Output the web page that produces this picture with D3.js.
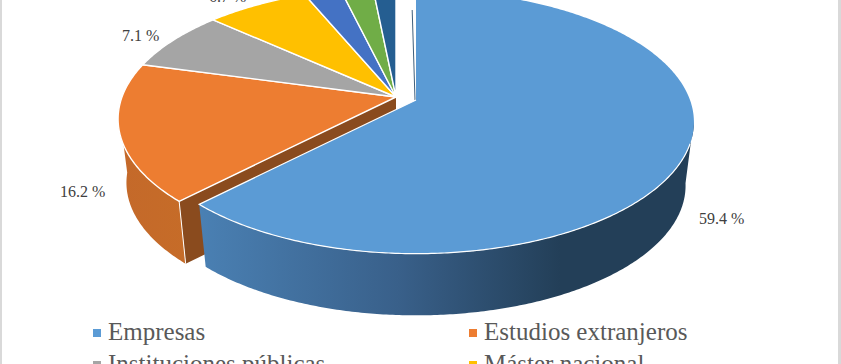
<!DOCTYPE html>
<html>
<head>
<meta charset="utf-8">
<style>
    html, body { margin: 0; padding: 0; background: #fff; }
    svg { display: block; }
    text { font-family: "Liberation Serif", serif; }
</style>
</head>
<body>
<div id="chart"></div>
<script src="https://d3js.org/d3.v7.min.js"></script>
<script>
// values, the last three slices have no readable label
var categories = ["Empresas", "Estudios extranjeros", "Instituciones públicas", "Máster nacional", "Otros 1", "Otros 2", "Otros 3"];
var values = [59.4, 16.2, 7.1, 6.7, 2.4, 2.1, 1.5];
var legendItems = ["Empresas", "Estudios extranjeros", "Instituciones públicas", "Máster nacional"];

var width = 841,
    height = 364;

var colors = d3.scaleOrdinal()
    .domain(categories)
    .range(["#5b9bd5", "#ed7d31", "#a5a5a5", "#ffc000", "#4472c4", "#70ad47", "#255e91"]);

var svg = d3.select("#chart").append("svg")
    .attr("width", width)
    .attr("height", height);

var defs = svg.append("defs");

var blueWall = defs.append("linearGradient")
    .attr("id", "blueWall")
    .attr("gradientUnits", "userSpaceOnUse")
    .attr("x1", 200).attr("x2", 560).attr("y1", 0).attr("y2", 0);
blueWall.append("stop").attr("offset", 0).attr("stop-color", "#4a80b3");
blueWall.append("stop").attr("offset", 0.55).attr("stop-color", "#39608a");
blueWall.append("stop").attr("offset", 1).attr("stop-color", "#233f58");

var orangeWall = defs.append("linearGradient")
    .attr("id", "orangeWall")
    .attr("gradientUnits", "userSpaceOnUse")
    .attr("x1", 120).attr("x2", 190).attr("y1", 0).attr("y2", 0);
orangeWall.append("stop").attr("offset", 0).attr("stop-color", "#c4692a");
orangeWall.append("stop").attr("offset", 1).attr("stop-color", "#c66c28");

// perspective projection of the disc
var rx = 274, ry = 128, persp = 0.167, depth = 64;

function project(a, c, lower) {
    var w = 1 + persp * Math.cos(a);
    var x = rx * Math.sin(a) / w,
        y = -ry * Math.cos(a) / w;
    if (lower) {
        return [c[0] + x * 0.97, c[1] + y * 0.985 + depth];
    }
    return [c[0] + x, c[1] + y];
}

var line = d3.line();

function rim(a0, a1, c, lower) {
    var n = Math.max(2, Math.ceil(Math.abs(a1 - a0) / 0.01));
    return d3.range(n + 1).map(function(i) {
        return project(a0 + (a1 - a0) * i / n, c, lower);
    });
}

var pie = d3.pie().sort(null).startAngle(0).endAngle(2 * Math.PI);
var slices = pie(values);

var mainCenter = [396, 97],
    blueCenter = [416, 100];

function centerOf(i) {
    return i === 0 ? blueCenter : mainCenter;
}

var g = svg.append("g");

// orange outer wall
var orange = slices[1];
g.append("path")
    .attr("d", line(rim(orange.startAngle, 4.62, mainCenter, false)
        .concat(rim(4.62, orange.startAngle, mainCenter, true))) + "Z")
    .attr("fill", "url(#orangeWall)");

// cut face of the orange slice, next to the blue one
var c0 = project(orange.startAngle, mainCenter, false),
    c1 = project(orange.startAngle, mainCenter, true);
var apexLow = [mainCenter[0], mainCenter[1] + depth];
g.append("path")
    .attr("d", line([mainCenter, c0, c1, apexLow]) + "Z")
    .attr("fill", "#8a4b1e");
g.append("path")
    .attr("d", line([c0, c1]))
    .attr("stroke", "#fff")
    .attr("fill", "none");

// top of the slices other than the blue one
g.selectAll("path.top")
    .data(slices.slice(1))
    .enter().append("path")
    .attr("class", "top")
    .attr("d", function(d) {
        return line([mainCenter].concat(rim(d.startAngle, d.endAngle, mainCenter, false))) + "Z";
    })
    .attr("fill", function(d, i) { return colors(categories[i + 1]); })
    .attr("stroke", "#fff")
    .attr("stroke-width", 1.4)
    .attr("stroke-linejoin", "round");

// blue outer wall
var blue = slices[0];
var wallStart = 1.72;
g.append("path")
    .attr("d", line(rim(wallStart, blue.endAngle, blueCenter, false)
        .concat(rim(blue.endAngle, wallStart, blueCenter, true))) + "Z")
    .attr("fill", "url(#blueWall)");

// thin sliver of the blue cut face, at the top of the slice
var sliverEnd = project(blue.startAngle - 0.012, blueCenter, false);
g.append("line")
    .attr("x1", blueCenter[0] - 1).attr("y1", blueCenter[1])
    .attr("x2", sliverEnd[0] - 1).attr("y2", 10)
    .attr("stroke", "#3f5f7c")
    .attr("stroke-width", 1);

// blue top
g.append("path")
    .attr("d", line([blueCenter].concat(rim(blue.startAngle, blue.endAngle, blueCenter, false))) + "Z")
    .attr("fill", colors(categories[0]));
g.append("path")
    .attr("d", line(rim(1.9, blue.endAngle, blueCenter, false).concat([blueCenter])))
    .attr("fill", "none")
    .attr("stroke", "#fff")
    .attr("stroke-width", 1.2);

// data labels
var labelPos = [[699, 224], [60, 197], [122, 41], [209, 2]];
svg.selectAll("text.label")
    .data(labelPos)
    .enter().append("text")
    .attr("class", "label")
    .attr("x", function(d) { return d[0]; })
    .attr("y", function(d) { return d[1]; })
    .attr("font-size", 16)
    .attr("fill", "#404040")
    .text(function(d, i) { return values[i].toFixed(1) + " %"; });

// legend, two columns, cut off by the picture's bottom edge
var legend = svg.selectAll("g.legend")
    .data(legendItems)
    .enter().append("g")
    .attr("class", "legend")
    .attr("transform", function(d, i) {
        return "translate(" + (i % 2 ? 469 : 93) + "," + (340 + Math.floor(i / 2) * 32) + ")";
    });

legend.append("rect")
    .attr("x", 0).attr("y", -11)
    .attr("width", 8).attr("height", 8)
    .attr("fill", function(d) { return colors(d); });

legend.append("text")
    .attr("x", 15)
    .attr("font-size", 25)
    .attr("fill", "#595959")
    .text(function(d) { return d; });

// frame of the picture, left and right
svg.append("rect").attr("x", 0).attr("y", 0).attr("width", 2).attr("height", height).attr("fill", "#d9d9d9");
svg.append("rect").attr("x", 838).attr("y", 0).attr("width", 3).attr("height", height).attr("fill", "#d9d9d9");
</script>
</body>
</html>
